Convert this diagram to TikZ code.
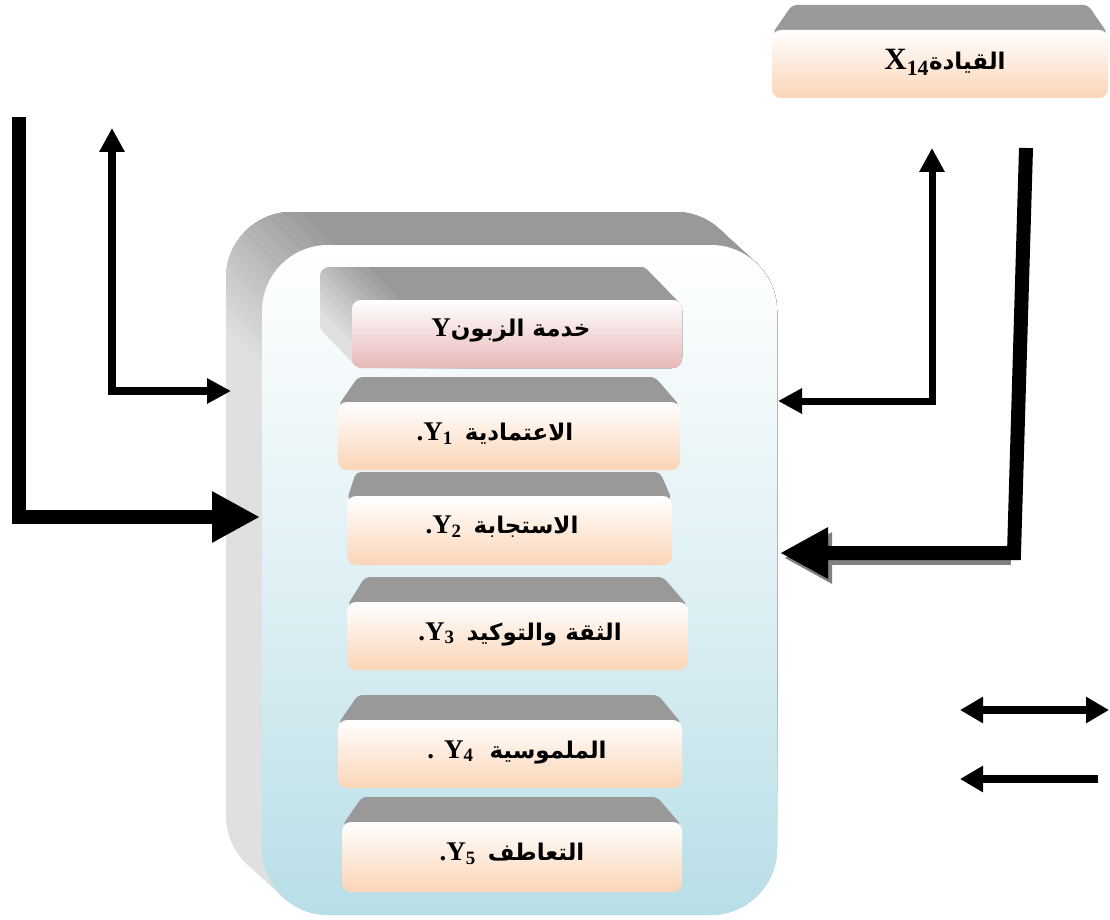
\documentclass[tikz,border=0pt]{standalone}
\usepackage{fontspec}
\setmainfont{Liberation Serif}
\newfontfamily\arabicfont[Script=Arabic]{DejaVu Sans}
\TeXXeTstate=1
\usetikzlibrary{arrows.meta}

\definecolor{bevdark}{RGB}{153,153,153}
\definecolor{bevlight}{RGB}{224,224,224}
\definecolor{peach}{RGB}{251,213,183}
\definecolor{rose}{RGB}{232,184,184}
\definecolor{sky}{RGB}{184,222,231}
\definecolor{shadowgrey}{RGB}{128,128,128}

% Arabic run, right to left
\newcommand\artxt[1]{{\arabicfont\fontsize{23}{26}\selectfont\bfseries\beginR #1\endR}}

% extruded slab: back rectangle #1..#4, offset #5,#6 to the face, corner radius #7
\newcommand\slabpieces[7]{%
  \fill[rounded corners=#7] (#1,#2) rectangle (#3,#4);
  \fill[rounded corners=#7] ({#1+#5},{#2+#6}) rectangle ({#3+#5},{#4+#6});
  \fill ({#3-0.2929*#7},{#2+0.2929*#7}) -- ++(#5,#6)
     -- ({#1+0.2929*#7+#5},{#4-0.2929*#7+#6})
     -- ({#1+0.2929*#7},{#4-0.2929*#7}) -- cycle;
}

% box seen from above: grey top trapezoid and shaded face
% #1..#4 face, #5 left inset, #6 right inset, #7 depth, #8 bottom colour
\newcommand\persbox[8]{%
  \fill[bevdark, rounded corners=5] (#1,{#2+4}) -- ({#1+#5},{#2-#7})
     -- ({#3-#6},{#2-#7}) -- (#3,{#2+4}) -- cycle;
  \shade[top color=white, bottom color=#8, rounded corners=9] (#1,#2) rectangle (#3,#4);
}

\tikzset{
  lbl/.style={inner sep=0pt, font=\fontsize{27}{30}\selectfont\bfseries},
  biglbl/.style={inner sep=0pt, font=\fontsize{31}{34}\selectfont\bfseries},
  bigtip/.tip={Triangle[length=48pt,width=48pt]},
  thintip/.tip={Triangle[length=24pt,width=24pt]},
  keytip/.tip={Triangle[length=23pt,width=25pt]},
  heavy/.style={line width=14pt, line join=miter, -bigtip},
  light/.style={line width=8pt, line join=miter},
}

\begin{document}
\begin{tikzpicture}[x=1pt,y=-1pt]
\useasboundingbox (0,0) rectangle (1110,920);
\fill[white] (0,0) rectangle (1110,920);

% ---------- container slab ----------
\begin{scope}[fill=bevlight]
  \slabpieces{226}{212}{741}{882}{36}{33}{66}
\end{scope}
\foreach \c [count=\i] in {-100,-90,...,90} {
  \pgfmathtruncatemacro\mix{5*\i}
  \begin{scope}
    \clip ({\c-1000},-1000) -- ({\c+2000},2000) -- (3000,2000) -- (3000,-1000) -- cycle;
    \begin{scope}[fill=bevdark!\mix!bevlight]
      \slabpieces{226}{212}{741}{882}{36}{33}{66}
    \end{scope}
  \end{scope}
}
\shade[top color=white, bottom color=sky, middle color=sky!45!white, rounded corners=66]
  (262,245) rectangle (777,915);

% ---------- Y slab ----------
\begin{scope}[fill=bevlight]
  \slabpieces{320}{267}{650}{335}{32}{33}{10}
\end{scope}
\foreach \c [count=\i] in {10,20,...,100} {
  \pgfmathtruncatemacro\mix{10*\i}
  \begin{scope}
    \clip ({\c-1000},-1000) -- ({\c+2000},2000) -- (3000,2000) -- (3000,-1000) -- cycle;
    \begin{scope}[fill=bevdark!\mix!bevlight]
      \slabpieces{320}{267}{650}{335}{32}{33}{10}
    \end{scope}
  \end{scope}
}
\shade[top color=white, bottom color=rose, rounded corners=9] (352,300) rectangle (682,368);
\node[lbl] (y) at (511,330) {Y\artxt{خدمة الزبون}};

% ---------- dimension boxes ----------
\persbox{772}{30}{1108}{98}{20}{20}{25}{peach}
\persbox{338}{402}{680}{470}{20}{25}{25}{peach}
\persbox{347}{496}{672}{565}{9}{12}{24}{peach}
\persbox{347}{602}{688}{670}{18}{25}{25}{peach}
\persbox{338}{720}{682}{788}{20}{24}{25}{peach}
\persbox{342}{822}{682}{892}{20}{25}{25}{peach}

\node[biglbl] (x14) at (945,62) {X\textsubscript{14}\artxt{القيادة}};
\node[lbl] (y1) at (495,434) {.Y\textsubscript{1}\hspace{12pt}\artxt{الاعتمادية}};
\node[lbl] (y2) at (502,527) {.Y\textsubscript{2}\hspace{12pt}\artxt{الاستجابة}};
\node[lbl] (y3) at (520,634) {.Y\textsubscript{3}\hspace{12pt}\artxt{الثقة والتوكيد}};
\node[lbl] (y4) at (517,752) {.\hspace{10pt}Y\textsubscript{4}\hspace{16pt}\artxt{الملموسية}};
\node[lbl] (y5) at (512,854) {.Y\textsubscript{5}\hspace{12pt}\artxt{التعاطف}};

% ---------- connectors ----------
\coordinate (lh) at (19,117);
\coordinate (lhIn) at (260,517);
\coordinate (lt) at (112,128);
\coordinate (ltIn) at (231,391);
\coordinate (rt) at (932,148);
\coordinate (rtIn) at (778,401);
\coordinate (rh) at (1026,148);
\coordinate (rhCorner) at (1014,553);
\coordinate (rhIn) at (780,553);

\draw[heavy] (lh) |- (lhIn);
\draw[light, thintip-thintip] (lt) |- (ltIn);
\draw[light, line width=7pt, thintip-thintip] (rt) |- (rtIn);

% drop shadow under the lower right arrow
\draw[heavy, shadowgrey] ([xshift=-3pt,yshift=-5pt]rhCorner) -- ([xshift=4pt,yshift=-5pt]rhIn);
\draw[heavy] (rh) -- (rhCorner) -- (rhIn);

% ---------- key ----------
\coordinate (k1a) at (960,710);
\coordinate (k1b) at (1109,710);
\coordinate (k2a) at (960,779);
\coordinate (k2b) at (1098,779);
\draw[light, keytip-keytip] (k1a) -- (k1b);
\draw[light, -keytip] (k2b) -- (k2a);
\end{tikzpicture}
\end{document}
